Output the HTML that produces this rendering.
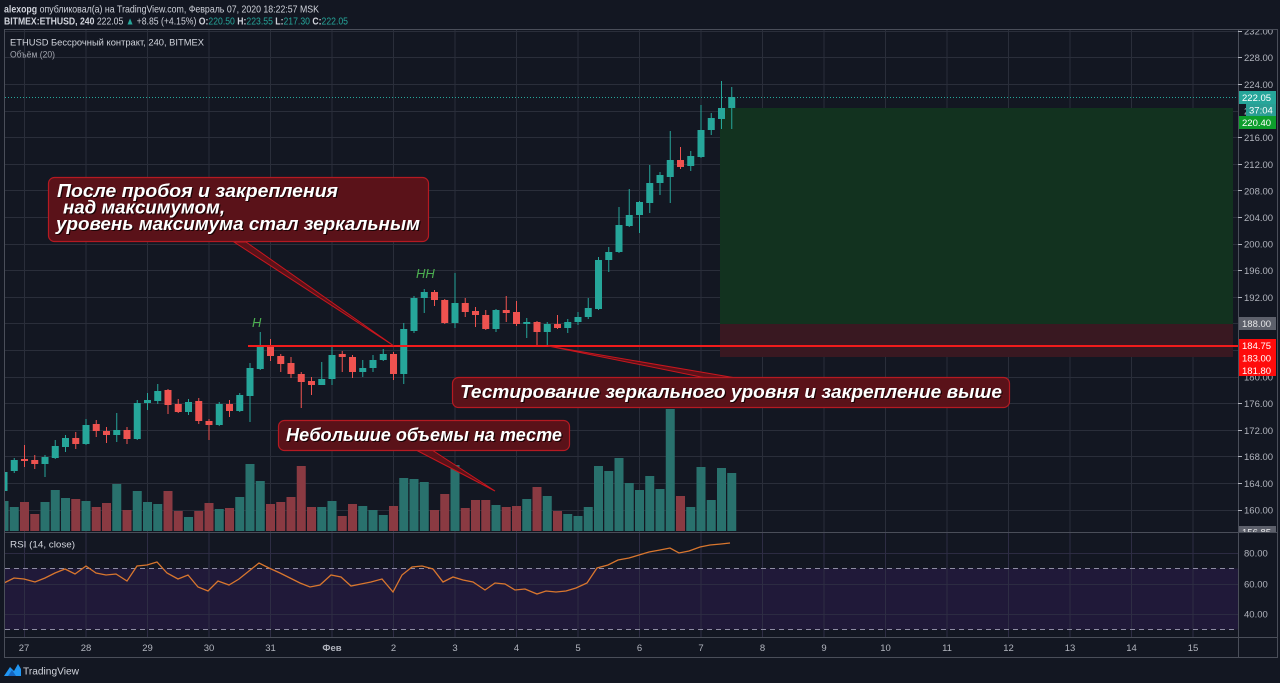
<!DOCTYPE html>
<html><head><meta charset="utf-8"><style>
html,body{margin:0;padding:0;background:#131722;}
svg{display:block;}
text{font-family:"Liberation Sans",sans-serif;}
</style></head><body>
<svg width="1280" height="683" viewBox="0 0 1280 683" xmlns="http://www.w3.org/2000/svg">
<defs>
<clipPath id="cm"><rect x="5" y="30" width="1233" height="502"/></clipPath>
<clipPath id="cr"><rect x="5" y="533" width="1233" height="104"/></clipPath>
<clipPath id="ca"><rect x="1238" y="30" width="42" height="502"/></clipPath>
</defs>
<rect width="1280" height="683" fill="#131722"/>

<!-- header -->
<text x="4" y="12.5" font-size="10.5" fill="#d1d4dc" textLength="315" lengthAdjust="spacingAndGlyphs"><tspan font-weight="bold">alexopg</tspan> опубликовал(а) на TradingView.com, Февраль 07, 2020 18:22:57 MSK</text>
<text x="4" y="24.5" font-size="10.5" fill="#d1d4dc" textLength="344" lengthAdjust="spacingAndGlyphs"><tspan font-weight="bold">BITMEX:ETHUSD, 240</tspan> 222.05 <tspan fill="#26a69a">▲</tspan> +8.85 (+4.15%) <tspan font-weight="bold">O:</tspan><tspan fill="#26a69a">220.50</tspan> <tspan font-weight="bold">H:</tspan><tspan fill="#26a69a">223.55</tspan> <tspan font-weight="bold">L:</tspan><tspan fill="#26a69a">217.30</tspan> <tspan font-weight="bold">C:</tspan><tspan fill="#26a69a">222.05</tspan></text>

<!-- main pane grid -->
<g stroke="#2a2e3a" stroke-width="1">
<path d="M5 31.5H1238M5 57.5H1238M5 84.5H1238M5 111.5H1238M5 137.5H1238M5 164.5H1238M5 190.5H1238M5 217.5H1238M5 244.5H1238M5 270.5H1238M5 297.5H1238M5 323.5H1238M5 350.5H1238M5 377.5H1238M5 403.5H1238M5 430.5H1238M5 456.5H1238M5 483.5H1238M5 510.5H1238"/>
<path d="M24.5 30V637M86 30V637M147.5 30V637M209 30V637M270.5 30V637M332 30V637M393.5 30V637M455 30V637M516.5 30V637M578 30V637M639.5 30V637M701 30V637M762.5 30V637M824 30V637M885.5 30V637M947 30V637M1008.5 30V637M1070 30V637M1131.5 30V637M1193 30V637"/>
</g>

<g clip-path="url(#cm)">
<!-- position zones -->
<rect x="720" y="108" width="513" height="216" fill="#12321f"/>
<rect x="720" y="324" width="513" height="33" fill="#391821"/>

<!-- volume -->
<path fill="none" stroke="#29716d" stroke-width="9" d="M4 531V501M14.25 531V507M45 531V502M55.25 531V490M65.5 531V498M86 531V501M116.75 531V484M137.25 531V491M147.5 531V502M157.75 531V504M188.5 531V517M219.25 531V509M239.75 531V497M250 531V464M260.25 531V481M321.75 531V507M332 531V501M362.75 531V506M373 531V510M383.25 531V515M403.75 531V478M414 531V479M424.25 531V482M455 531V465M496 531V505M526.75 531V499M547.25 531V496M567.75 531V514M578 531V516M588.25 531V507M598.5 531V466M608.75 531V471M619 531V458M629.25 531V483M639.5 531V490M649.75 531V476M660 531V489M670.25 531V409M690.75 531V507M701 531V467M711.25 531V500M721.5 531V468M731.75 531V473"/>
<path fill="none" stroke="#8a3a42" stroke-width="9" d="M24.5 531V502M34.75 531V514M75.75 531V499M96.25 531V507M106.5 531V503M127 531V510M168 531V491M178.25 531V511M198.75 531V511M209 531V503M229.5 531V508M270.5 531V504M280.75 531V502M291 531V497M301.25 531V466M311.5 531V507M342.25 531V516M352.5 531V504M393.5 531V506M434.5 531V510M444.75 531V494M465.25 531V508M475.5 531V500M485.75 531V500M506.25 531V507M516.5 531V506M537 531V487M557.5 531V511M680.5 531V496"/>

<!-- teal dotted price line -->
<path d="M5 97.5H1238" stroke="#26a69a" stroke-width="1" stroke-dasharray="1 2"/>

<!-- candles teal -->
<g fill="none" stroke="#26a69a">
<path stroke-width="1" d="M4 466V495M14.25 458V473M45 455V477M55.25 440V459M65.5 435V452M86 419V445M116.75 413V442M137.25 400V440M147.5 393V410M157.75 384V404M188.5 399V415M219.25 402V426M239.75 393V412M250 363V422M260.25 332V370M321.75 362V385M332 347V385M362.75 360V377M373 355V372M383.25 349V361M403.75 323V384M414 296V333M424.25 289V313M455 273V328M496 309V332M526.75 318V338M547.25 322V346M567.75 319V333M578 312V325M588.25 298V319M598.5 257V310M608.75 247V272M619 207V253M629.25 189V227M639.5 201V233M649.75 165V213M660 172V195M670.25 131V203M690.75 151V171M701 105V158M711.25 113V135M721.5 81V129M731.75 87V129"/>
<path stroke-width="7" d="M4 472V491M14.25 460V471M45 457V464M55.25 446V458M65.5 438V447M86 425V444M116.75 430V435M137.25 403V439M147.5 400V403M157.75 391V401M188.5 402V412M219.25 404V425M239.75 395V411M250 368V396M260.25 345V369M321.75 379V385M332 355V379M362.75 368V372M373 360V368M383.25 354V360M403.75 329V374M414 298V331M424.25 292V298M455 303V323M496 310V329M526.75 322V324M547.25 324V332M567.75 322V328M578 317V322M588.25 308V317M598.5 260V309M608.75 252V260M619 225V252M629.25 215V226M639.5 202V215M649.75 183V203M660 175V183M670.25 160V177M690.75 156V166M701 130V157M711.25 118V130M721.5 108V119M731.75 97V108"/>
</g>
<!-- candles red -->
<g fill="none" stroke="#ef5350">
<path stroke-width="1" d="M24.5 445V467M34.75 455V469M75.75 432V449M96.25 420V437M106.5 427V443M127 427V444M168 389V414M178.25 399V413M198.75 398V424M209 419V440M229.5 400V417M270.5 339V361M280.75 354V372M291 357V378M301.25 372V408M311.5 377V395M342.25 351V372M352.5 355V378M393.5 352V380M434.5 290V306M444.75 299V324M465.25 298V317M475.5 307V327M485.75 310V330M506.25 296V322M516.5 301V326M537 321V347M557.5 315V329M680.5 147V169"/>
<path stroke-width="7" d="M24.5 459V461M34.75 460V464M75.75 438V444M96.25 424V431M106.5 431V435M127 430V439M168 390V405M178.25 404V412M198.75 401V421M209 421V425M229.5 404V411M270.5 346V356M280.75 356V364M291 363V374M301.25 374V382M311.5 381V385M342.25 354V357M352.5 357V372M393.5 354V374M434.5 292V300M444.75 300V323M465.25 303V312M475.5 311V315M485.75 315V329M506.25 310V313M516.5 312V324M537 322V332M557.5 324V328M680.5 160V167"/>
</g>

<!-- red level line -->
<path d="M248 346H1238" stroke="#f01c1c" stroke-width="2"/>

<!-- H / HH -->
<text x="252" y="327" font-size="13" font-style="italic" fill="#4caf50">H</text>
<text x="416" y="278" font-size="13" font-style="italic" fill="#4caf50">HH</text>

<!-- callouts -->
<polygon points="234,242 246,242 394,346" fill="#5a1219" stroke="#c8161e" stroke-width="1"/>
<polygon points="548,346 706,378 736,378" fill="#5a1219" stroke="#c8161e" stroke-width="1"/>
<polygon points="416,450 432,450 495,491" fill="#5a1219" stroke="#c8161e" stroke-width="1"/>

<rect x="48.5" y="177.5" width="380" height="64" rx="6" fill="#5a1219" stroke="#b51a22" stroke-width="1.2"/>
<g font-size="18.5" font-weight="bold" font-style="italic">
<g fill="#1a0406" transform="translate(1.2,1.2)">
<text x="57" y="197" textLength="281" lengthAdjust="spacingAndGlyphs">После пробоя и закрепления</text>
<text x="63" y="213.5" textLength="162" lengthAdjust="spacingAndGlyphs">над максимумом,</text>
<text x="56" y="230" textLength="364" lengthAdjust="spacingAndGlyphs">уровень максимума стал зеркальным</text>
</g>
<g fill="#ffffff">
<text x="57" y="197" textLength="281" lengthAdjust="spacingAndGlyphs">После пробоя и закрепления</text>
<text x="63" y="213.5" textLength="162" lengthAdjust="spacingAndGlyphs">над максимумом,</text>
<text x="56" y="230" textLength="364" lengthAdjust="spacingAndGlyphs">уровень максимума стал зеркальным</text>
</g>
</g>

<rect x="452.5" y="377.5" width="557" height="30" rx="6" fill="#5a1219" stroke="#b51a22" stroke-width="1.2"/>
<text x="461.2" y="399.2" font-size="18.5" font-weight="bold" font-style="italic" fill="#1a0406" textLength="542" lengthAdjust="spacingAndGlyphs">Тестирование зеркального уровня и закрепление выше</text>
<text x="460" y="398" font-size="18.5" font-weight="bold" font-style="italic" fill="#ffffff" textLength="542" lengthAdjust="spacingAndGlyphs">Тестирование зеркального уровня и закрепление выше</text>

<rect x="278.5" y="420.5" width="291" height="30" rx="6" fill="#5a1219" stroke="#b51a22" stroke-width="1.2"/>
<text x="287.2" y="442.2" font-size="18.5" font-weight="bold" font-style="italic" fill="#1a0406" textLength="276" lengthAdjust="spacingAndGlyphs">Небольшие объемы на тесте</text>
<text x="286" y="441" font-size="18.5" font-weight="bold" font-style="italic" fill="#ffffff" textLength="276" lengthAdjust="spacingAndGlyphs">Небольшие объемы на тесте</text>

<!-- legend -->
<text x="10" y="45.5" font-size="9.5" fill="#d1d4dc" textLength="194" lengthAdjust="spacingAndGlyphs">ETHUSD Бессрочный контракт, 240, BITMEX</text>
<text x="10" y="57.5" font-size="9.5" fill="#a3a6af" textLength="45" lengthAdjust="spacingAndGlyphs">Объём (20)</text>
</g>

<!-- RSI pane -->
<g clip-path="url(#cr)">
<rect x="5" y="568.5" width="1233" height="61" fill="#201939"/>
<path d="M5 553.5H1238M5 584.5H1238M5 614.5H1238" stroke="#2c2b42" stroke-width="1"/>
<path d="M24.5 533V637M86 533V637M147.5 533V637M209 533V637M270.5 533V637M332 533V637M393.5 533V637M455 533V637M516.5 533V637M578 533V637M639.5 533V637M701 533V637M762.5 533V637M824 533V637M885.5 533V637M947 533V637M1008.5 533V637M1070 533V637M1131.5 533V637M1193 533V637" stroke="#2e2d44" stroke-width="1"/>
<path d="M5 568.5H1238M5 629.5H1238" stroke="#8e8ca3" stroke-width="1" stroke-dasharray="5 4"/>
<polyline fill="none" stroke="#d8762e" stroke-width="1.3" points="4,583 14,578 24,579 35,582 45,578 55,573 65,569 75,574 86,566 96,573 106,575 116,574 127,581 137,566 147,565 157,562 167,573 178,579 188,575 198,587 208,591 218,581 229,585 239,579 249,571 259,563 269,568 280,573 290,578 300,583 310,587 320,585 331,575 341,577 351,586 361,584 371,582 382,579 393,592 402,575 412,567 422,566 433,569 443,582 453,577 463,580 473,582 485,590 495,583 505,584 515,590 525,589 537,594 546,591 556,592 566,591 576,588 587,583 597,568 608,565 618,560 629,558 639,555 649,552 660,550 670,548 679,553 689,551 700,547 710,545 721,544 730,543"/>
<text x="10" y="547.5" font-size="9.5" fill="#d1d4dc" textLength="65" lengthAdjust="spacingAndGlyphs">RSI (14, close)</text>
</g>

<!-- separators / borders -->
<path d="M5 532.5H1278M5 637.5H1278M1238.5 30V657" stroke="#4a4e59" stroke-width="1"/>
<rect x="4.5" y="29.5" width="1273" height="628" fill="none" stroke="#4a4e59" stroke-width="1"/>

<!-- price axis -->
<g clip-path="url(#ca)" font-size="9.5" fill="#b2b5be">
<path stroke="#b2b5be" stroke-width="1" d="M1238 31.5H1242M1238 57.5H1242M1238 84.5H1242M1238 137.5H1242M1238 164.5H1242M1238 190.5H1242M1238 217.5H1242M1238 244.5H1242M1238 270.5H1242M1238 297.5H1242M1238 403.5H1242M1238 430.5H1242M1238 456.5H1242M1238 483.5H1242M1238 510.5H1242"/>
<text x="1244" y="34.5">232.00</text>
<text x="1244" y="61">228.00</text>
<text x="1244" y="88">224.00</text>
<text x="1244" y="114.5">220.00</text>
<text x="1244" y="141">216.00</text>
<text x="1244" y="168">212.00</text>
<text x="1244" y="194.5">208.00</text>
<text x="1244" y="221">204.00</text>
<text x="1244" y="247.5">200.00</text>
<text x="1244" y="274">196.00</text>
<text x="1244" y="301">192.00</text>
<text x="1244" y="380.5">180.00</text>
<text x="1244" y="407">176.00</text>
<text x="1244" y="434">172.00</text>
<text x="1244" y="460">168.00</text>
<text x="1244" y="487">164.00</text>
<text x="1244" y="513.5">160.00</text>

<rect x="1239" y="91" width="37" height="13" fill="#26a69a"/>
<text x="1242" y="101" fill="#ffffff">222.05</text>
<rect x="1246" y="104" width="30" height="12" fill="#2a9e94"/>
<text x="1249" y="113.5" fill="#ffffff">37:04</text>
<rect x="1239" y="116" width="37" height="13" fill="#0d9e2c"/>
<text x="1242" y="126" fill="#ffffff">220.40</text>
<rect x="1239" y="317" width="37" height="13" fill="#5d606b"/>
<text x="1242" y="327" fill="#e8e8ea">188.00</text>
<rect x="1239" y="339" width="37" height="37" fill="#ff0c0c"/>
<text x="1242" y="349" fill="#ffffff">184.75</text>
<text x="1242" y="361.5" fill="#ffffff">183.00</text>
<text x="1242" y="374" fill="#ffffff">181.80</text>
<rect x="1239" y="526" width="37" height="13" fill="#5d606b"/>
<text x="1242" y="535.5" fill="#e8e8ea">156.85</text>
</g>
<g font-size="9.5" fill="#b2b5be">
<text x="1244" y="556.5">80.00</text>
<text x="1244" y="587.5">60.00</text>
<text x="1244" y="617.5">40.00</text>
</g>

<!-- x axis -->
<g font-size="9.5" fill="#b2b5be" text-anchor="middle">
<text x="24" y="651">27</text>
<text x="86" y="651">28</text>
<text x="147.5" y="651">29</text>
<text x="209" y="651">30</text>
<text x="270.5" y="651">31</text>
<text x="332" y="651" font-weight="bold">Фев</text>
<text x="393.5" y="651">2</text>
<text x="455" y="651">3</text>
<text x="516.5" y="651">4</text>
<text x="578" y="651">5</text>
<text x="639.5" y="651">6</text>
<text x="701" y="651">7</text>
<text x="762.5" y="651">8</text>
<text x="824" y="651">9</text>
<text x="885.5" y="651">10</text>
<text x="947" y="651">11</text>
<text x="1008.5" y="651">12</text>
<text x="1070" y="651">13</text>
<text x="1131.5" y="651">14</text>
<text x="1193" y="651">15</text>
</g>

<!-- TradingView logo -->
<path d="M4 676 L10 667 L14 671 L18 664 L21 669 L21 676 Z" fill="#2196f3"/>
<path d="M8 676 L12 670 L16 676 Z" fill="#1565c0"/>
<text x="23" y="674.5" font-size="10.5" fill="#d1d4dc" textLength="56" lengthAdjust="spacingAndGlyphs">TradingView</text>
</svg>
</body></html>
